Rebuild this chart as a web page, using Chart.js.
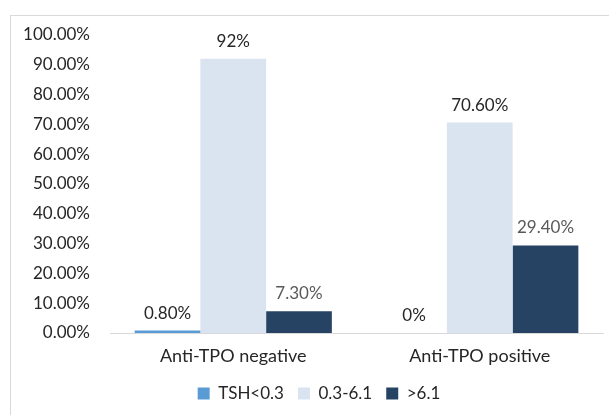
<!DOCTYPE html>
<html>
<head>
<meta charset="utf-8">
<script src="https://cdn.jsdelivr.net/npm/chart.js@4"></script>
<style>
    html, body { margin: 0; padding: 0; background: #fff; }
    #wrap { position: relative; width: 609px; height: 415px; overflow: hidden; }
    #frame { position: absolute; left: 10px; top: 15px; width: 640px; height: 440px; border: 1px solid #d9d9d9; }
    canvas { position: absolute; left: 0; top: 0; }
</style>
</head>
<body>
<div id="wrap">
    <div id="frame"></div>
    <canvas id="chart" width="609" height="415"></canvas>
</div>
<script>
    // Kategoriler ve seriler
    const categories = ['Anti-TPO negative', 'Anti-TPO positive'];
    const seriesNames = ['TSH<0.3', '0.3-6.1', '>6.1'];
    const lowValues = [0.8, 0];
    const normalValues = [92, 70.6];
    const highValues = [7.3, 29.4];
    const lowLabels = ['0.80%', '0%'];
    const normalLabels = ['92%', '70.60%'];
    const highLabels = ['7.30%', '29.40%'];
    const yTicks = [0, 10, 20, 30, 40, 50, 60, 70, 80, 90, 100];

    const fontFamily = 'Lato, "Open Sans", sans-serif';

    // Çubukların üstüne değer etiketleri
    const valueLabels = {
        id: 'valueLabels',
        afterDatasetsDraw(chart) {
            const ctx = chart.ctx;
            ctx.save();
            ctx.font = '17px ' + fontFamily;
            ctx.textAlign = 'center';
            ctx.textBaseline = 'bottom';
            chart.data.datasets.forEach((ds, i) => {
                const meta = chart.getDatasetMeta(i);
                meta.data.forEach((bar, j) => {
                    ctx.fillStyle = ds.labelColor;
                    ctx.fillText(ds.valueText[j], bar.x, bar.y - 9);
                });
            });
            ctx.restore();
        },
    };

    // Lejantı biraz sağa kaydır (Excel'deki gibi)
    const legendShift = {
        id: 'legendShift',
        afterLayout(chart) {
            if (chart.legend) {
                chart.legend.left += 25;
            }
        },
    };

    const ctx = document.getElementById('chart').getContext('2d');
    new Chart(ctx, {
        type: 'bar',
        data: {
            labels: categories,
            datasets: [
                {
                    label: seriesNames[0],
                    data: lowValues,
                    valueText: lowLabels,
                    labelColor: '#262626',
                    backgroundColor: '#5b9bd5',
                },
                {
                    label: seriesNames[1],
                    data: normalValues,
                    valueText: normalLabels,
                    labelColor: '#262626',
                    backgroundColor: '#dae3f0',
                },
                {
                    label: seriesNames[2],
                    data: highValues,
                    valueText: highLabels,
                    labelColor: '#595959',
                    backgroundColor: '#264364',
                },
            ],
        },
        options: {
            responsive: false,
            animation: false,
            devicePixelRatio: 1,
            layout: {
                padding: { left: 10, right: 6, top: 35, bottom: 3 },
            },
            datasets: {
                bar: {
                    categoryPercentage: 0.8,
                    barPercentage: 1.0,
                    borderWidth: 0,
                },
            },
            plugins: {
                legend: {
                    position: 'bottom',
                    labels: {
                        boxWidth: 12,
                        boxHeight: 12,
                        color: '#262626',
                        padding: 14,
                        font: { family: fontFamily, size: 17 },
                    },
                },
                tooltip: { enabled: false },
            },
            scales: {
                x: {
                    afterFit: (scale) => { scale.height = 38; },
                    grid: { display: false, drawTicks: false },
                    border: { color: '#d9d9d9', width: 1 },
                    ticks: {
                        color: '#262626',
                        padding: 12,
                        font: { family: fontFamily, size: 18 },
                    },
                },
                y: {
                    min: 0,
                    max: 100,
                    afterFit: (scale) => { scale.width = 100; },
                    afterBuildTicks: (scale) => {
                        scale.ticks = yTicks.map((v) => ({ value: v }));
                    },
                    grid: { display: false, drawTicks: false },
                    border: { display: false },
                    ticks: {
                        color: '#262626',
                        padding: 20,
                        font: { family: fontFamily, size: 17 },
                        callback: (v) => v.toFixed(2) + '%',
                    },
                },
            },
        },
        plugins: [valueLabels, legendShift],
    });
</script>
</body>
</html>
